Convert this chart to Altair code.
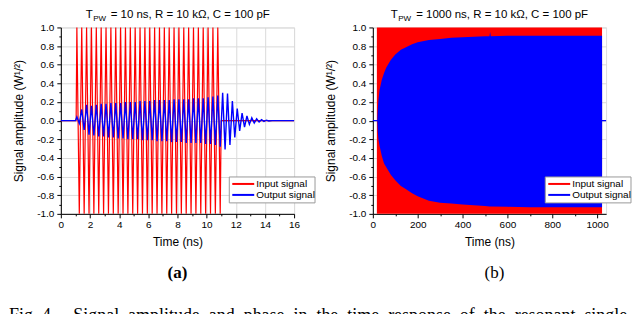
import altair as alt
import pandas as pd

FONT = "Liberation Sans"
SERIF = "Liberation Serif"
RED = "#ff0000"
BLUE = "#0000ff"
GRID = "#dadada"
NB = "\u00a0"

# ---------------- Panel (a): T_PW = 10 ns ----------------
a_burst_start = 1.1          # ns, first carrier peak
a_half_period = 1.0 / 6.0    # ns, 3 GHz carrier (peak-to-peak spacing)
input_peaks_a = [1.0, -1.0] * 30          # input carrier peaks during the 10 ns burst
output_upper_a = [0.04, 0.12, 0.17, 0.16, 0.17, 0.18, 0.18, 0.19, 0.19, 0.19,
                  0.2, 0.2, 0.2, 0.21, 0.21, 0.21, 0.22, 0.22, 0.22, 0.22,
                  0.23, 0.23, 0.23, 0.23, 0.24, 0.24, 0.24, 0.25, 0.26, 0.27,
                  0.3, 0.29, 0.21, 0.13, 0.08, 0.05, 0.03, 0.02, 0.01, 0.005]
output_lower_a = [-0.03, -0.1, -0.15, -0.16, -0.17, -0.17, -0.18, -0.18, -0.19, -0.19,
                  -0.2, -0.2, -0.2, -0.21, -0.21, -0.21, -0.22, -0.22, -0.22, -0.23,
                  -0.23, -0.23, -0.24, -0.24, -0.24, -0.24, -0.25, -0.25, -0.26, -0.28,
                  -0.31, -0.26, -0.18, -0.11, -0.07, -0.04, -0.025, -0.015, -0.008, -0.004]
a_x_ticks = [0, 2, 4, 6, 8, 10, 12, 14, 16]
a_x_minor = [1, 3, 5, 7, 9, 11, 13, 15]

# ---------------- Panel (b): T_PW = 1000 ns ----------------
b_input_t = [18, 1022]
b_input_hi = [1.0, 1.0]
b_input_lo = [-1.0, -1.0]
b_out_t = [20, 22, 25, 30, 40, 50, 60, 80, 100, 125, 150, 175, 200, 250, 300,
           350, 400, 500, 520, 523, 526, 600, 700, 800, 900, 1000, 1022, 1022.5]
b_out_hi = [0.0, 0.12, 0.22, 0.33, 0.44, 0.51, 0.57, 0.65, 0.71, 0.76, 0.79, 0.82, 0.84, 0.865, 0.875,
            0.89, 0.895, 0.905, 0.905, 0.95, 0.905, 0.91, 0.91, 0.91, 0.91, 0.91, 0.91, 0.0]
b_out_lo = [0.0, -0.12, -0.2, -0.27, -0.38, -0.46, -0.5, -0.58, -0.64, -0.7, -0.74, -0.78, -0.81, -0.86, -0.88,
            -0.89, -0.9, -0.915, -0.92, -0.92, -0.92, -0.925, -0.93, -0.93, -0.93, -0.93, -0.93, 0.0]
b_baseline_t = [0, 1040]
b_baseline_v = [0.0, 0.0]
b_x_ticks = [0, 200, 400, 600, 800, 1000]
b_x_minor = [100, 300, 500, 700, 900]

y_ticks = [1.0, 0.8, 0.6, 0.4, 0.2, 0.0, -0.2, -0.4, -0.6, -0.8, -1.0]
y_minor = [0.9, 0.7, 0.5, 0.3, 0.1, -0.1, -0.3, -0.5, -0.7, -0.9]

caption_words = ["Fig.", "4.", "Signal", "amplitude", "and", "phase", "in", "the", "time",
                 "response", "of", "the", "resonant", "single"]

W, H = 234, 187

# ---------------- data tables ----------------
red_t = [0.0, 1.05] + [a_burst_start + k * a_half_period for k in range(len(input_peaks_a))] + [11.0, 16.0]
red_v = [0.0, 0.0] + input_peaks_a + [0.0, 0.0]
df_in_a = pd.DataFrame({"t": red_t, "v": red_v})

blue_vals = []
for up, lo in zip(output_upper_a, output_lower_a):
    blue_vals += [up, lo]
blue_t = [0.0, 1.0] + [a_burst_start + k * a_half_period for k in range(len(blue_vals))] + [14.5, 16.0]
blue_v = [0.0, 0.0] + blue_vals + [0.0, 0.0]
df_out_a = pd.DataFrame({"t": blue_t, "v": blue_v})

df_in_b = pd.DataFrame({"t": b_input_t, "hi": b_input_hi, "lo": b_input_lo})
df_out_b = pd.DataFrame({"t": b_out_t, "hi": b_out_hi, "lo": b_out_lo})
df_base_b = pd.DataFrame({"t": b_baseline_t, "v": b_baseline_v})

Y_LABEL = "datum.value < 0 ? '-' + format(-datum.value, '.1f') : format(datum.value, '.1f')"


def x_axis(ticks):
    return alt.Axis(values=ticks, title="Time (ns)", grid=True, gridColor=GRID, gridWidth=1,
                    domainColor="black", tickColor="black", tickSize=4, labelPadding=2,
                    labelFont=FONT, labelFontSize=10, labelColor="black", labelFlush=False,
                    labelOverlap=False, titleFont=FONT, titleFontSize=12, titleFontWeight="normal",
                    titleColor="black", titlePadding=7, format="d")


def y_axis():
    return alt.Axis(values=y_ticks, title="Signal amplitude (W¹/²)", grid=True, gridColor=GRID,
                    gridWidth=1, domainColor="black", tickColor="black", tickSize=4, labelPadding=3,
                    labelFont=FONT, labelFontSize=10, labelColor="black", labelExpr=Y_LABEL,
                    labelOverlap=False, titleFont=FONT, titleFontSize=12, titleFontWeight="normal",
                    titleColor="black", titlePadding=11)


def minor_x(minor, dom):
    return alt.X("t:Q", scale=alt.Scale(domain=dom, nice=False, zero=False),
                 axis=alt.Axis(values=minor, orient="bottom", labels=False, grid=False, domain=False,
                               tickColor="black", tickSize=2, title=None))


def minor_y():
    return alt.Y("v:Q", scale=alt.Scale(domain=[-1, 1], nice=False),
                 axis=alt.Axis(values=y_minor, orient="left", labels=False, grid=False, domain=False,
                               tickColor="black", tickSize=2, title=None))


one = alt.Data(values=[{}])


def txt(text, x, y, size, font=FONT, align="left", baseline="alphabetic", weight="normal"):
    return alt.Chart(one).mark_text(text=text, font=font, fontSize=size, align=align,
                                    baseline=baseline, fontWeight=weight, color="black").encode(
        x=alt.value(x), y=alt.value(y))


def legend(x0):
    box = alt.Chart(one).mark_rect(fill="white", stroke="#9a9a9a", strokeWidth=1).encode(
        x=alt.value(x0), x2=alt.value(x0 + 86), y=alt.value(150), y2=alt.value(176))
    l1 = alt.Chart(one).mark_rule(color=RED, strokeWidth=2).encode(
        x=alt.value(x0 + 3), x2=alt.value(x0 + 25), y=alt.value(157))
    l2 = alt.Chart(one).mark_rule(color=BLUE, strokeWidth=2).encode(
        x=alt.value(x0 + 3), x2=alt.value(x0 + 25), y=alt.value(168))
    t1 = txt("Input signal", x0 + 27, 157, 10, baseline="middle")
    t2 = txt("Output signal", x0 + 27, 168, 10, baseline="middle")
    return [box, l1, l2, t1, t2]


def title(sub_x, rest_x, rest):
    return [txt("T", sub_x - 7.5, -9, 11.5),
            txt("PW", sub_x, -6.5, 8),
            txt(rest, rest_x, -9, 11.5)]


pin = alt.Chart(one).mark_rule(opacity=0).encode(x=alt.value(0), x2=alt.value(4), y=alt.value(-18))

caption_text = (caption_words[0] + " " + caption_words[1] + NB * 3 + " "
                + (NB + " ").join(caption_words[2:]))

# ---------------- panel (a) ----------------
xa = alt.X("t:Q", scale=alt.Scale(domain=[0, 16], nice=False, zero=False), axis=x_axis(a_x_ticks))
ya = alt.Y("v:Q", scale=alt.Scale(domain=[-1, 1], nice=False), axis=y_axis())

in_a = alt.Chart(df_in_a).mark_line(color=RED, strokeWidth=1.2).encode(x=xa, y=ya)
out_a = alt.Chart(df_out_a).mark_line(color=BLUE, strokeWidth=1.4).encode(x=xa, y=ya)
minor_a = alt.Chart(df_out_a).mark_point(opacity=0).encode(x=minor_x(a_x_minor, [0, 16]), y=minor_y())

panel_a = alt.layer(
    alt.layer(in_a, out_a),
    minor_a,
    *title(32.5, 50, "= 10 ns, R = 10 kΩ, C = 100 pF"),
    *legend(169),
    txt("(a)", 117, 246, 17, font=SERIF, align="center", baseline="middle", weight="bold"),
    txt(caption_text, -52, 294, 18, font=SERIF),
    pin,
).resolve_axis(x="independent", y="independent").properties(width=W, height=H)

# ---------------- panel (b) ----------------
xb = alt.X("t:Q", scale=alt.Scale(domain=[0, 1040], nice=False, zero=False), axis=x_axis(b_x_ticks))
yb_hi = alt.Y("hi:Q", scale=alt.Scale(domain=[-1, 1], nice=False), axis=y_axis())
yb = alt.Y("v:Q", scale=alt.Scale(domain=[-1, 1], nice=False), axis=y_axis())

in_b = alt.Chart(df_in_b).mark_area(color=RED, opacity=1).encode(x=xb, y=yb_hi, y2="lo:Q")
out_b = alt.Chart(df_out_b).mark_area(color=BLUE, opacity=1).encode(x=xb, y=yb_hi, y2="lo:Q")
base_b = alt.Chart(df_base_b).mark_line(color=BLUE, strokeWidth=1.4).encode(x=xb, y=yb)
minor_b = alt.Chart(df_base_b).mark_point(opacity=0).encode(x=minor_x(b_x_minor, [0, 1040]), y=minor_y())

panel_b = alt.layer(
    alt.layer(in_b, out_b, base_b),
    minor_b,
    *title(25.5, 43.5, "= 1000 ns, R = 10 kΩ, C = 100 pF"),
    *legend(173),
    txt("(b)", 122, 246, 17, font=SERIF, align="center", baseline="middle"),
    pin,
).resolve_axis(x="independent", y="independent").properties(width=W, height=H)

chart = alt.hconcat(panel_a, panel_b, spacing=79, bounds="flush").properties(
    padding={"left": 0, "top": 0, "right": 0, "bottom": 0}
).configure_view(stroke=None).configure(background="white")

chart.save("out.html", embed_options={"renderer": "svg", "actions": False})
